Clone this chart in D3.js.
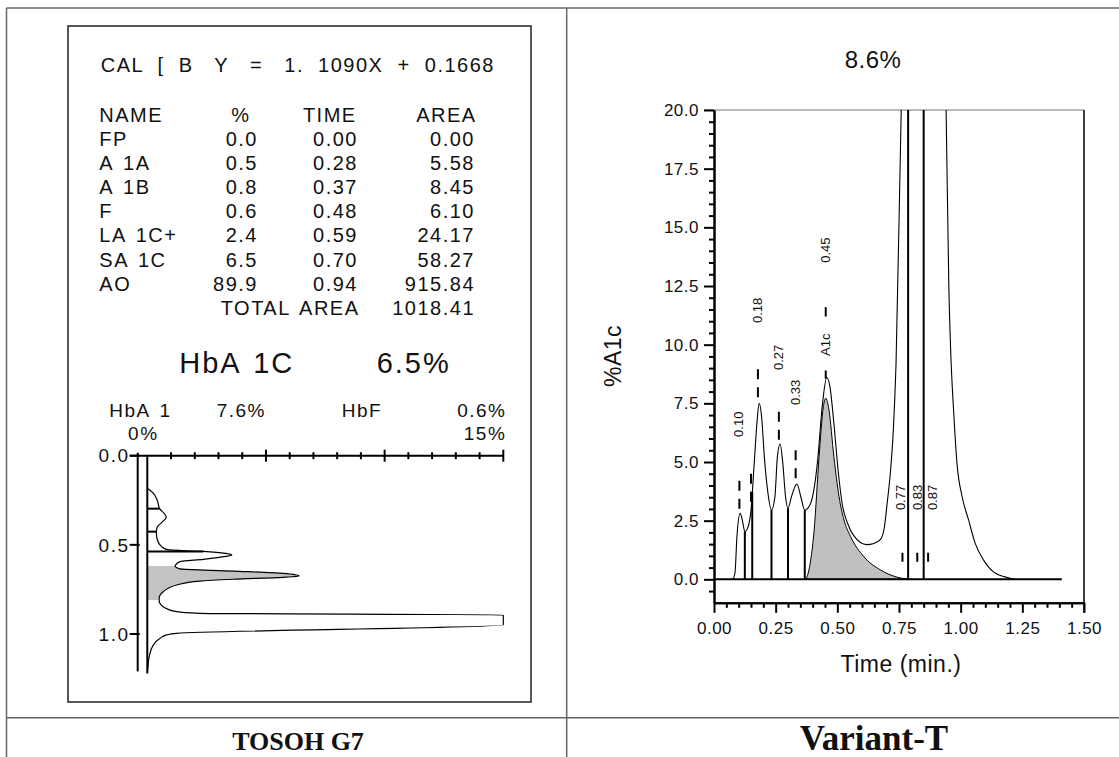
<!DOCTYPE html>
<html>
<head>
<meta charset="utf-8">
<script src="https://cdn.jsdelivr.net/npm/d3@7"></script>
<style>
  body { margin: 0; background: #fff; }
  svg text { font-family: "Liberation Sans", Arial, sans-serif; fill: #111; }
  .rep { font-size: 20px; letter-spacing: 1.5px; word-spacing: 3px; white-space: pre; }
  .foot { font-family: "Liberation Serif", "Times New Roman", serif !important; font-weight: bold; }
  .axis path, .axis line { stroke: #000; stroke-width: 2; }
  .axis text { font-size: 17px; letter-spacing: 0.5px; }
</style>
</head>
<body>
<div id="chart"></div>
<script>
"use strict";

// ---- TOSOH G7 report (left) ----
var calLine = "CAL  [  B   Y   =   1.  1090X  +  0.1668";
var tableHead = ["NAME", "%", "TIME", "AREA"];
var peakNames = ["FP", "A 1A", "A 1B", "F", "LA 1C+", "SA 1C", "AO"];
var peakPct = ["0.0", "0.5", "0.8", "0.6", "2.4", "6.5", "89.9"];
var peakTime = ["0.00", "0.28", "0.37", "0.48", "0.59", "0.70", "0.94"];
var peakArea = ["0.00", "5.58", "8.45", "6.10", "24.17", "58.27", "915.84"];
var totalArea = "1018.41";
var hba1c = "6.5%";
var hba1 = "7.6%";
var hbf = "0.6%";

// left chromatogram: time (min, downwards) vs percent (0-15%, rightwards)
var g7Time = [0.183, 0.21, 0.25, 0.297, 0.325, 0.345, 0.375, 0.40, 0.426, 0.47, 0.51, 0.527,
  0.537, 0.548, 0.557, 0.565, 0.581, 0.594, 0.606, 0.619, 0.635, 0.647, 0.66, 0.675,
  0.682, 0.693, 0.703, 0.725, 0.763, 0.80, 0.813, 0.847, 0.875, 0.884, 0.893, 0.95,
  0.996, 1.005, 1.024, 1.062, 1.127, 1.192, 1.21];
var g7Pct = [0.0, 0.25, 0.42, 0.52, 0.72, 0.8, 0.6, 0.42, 0.38, 0.42, 0.6, 0.85,
  2.36, 3.3, 3.56, 3.3, 2.36, 1.38, 1.24, 1.17, 1.38, 3.6, 5.73, 6.4,
  5.73, 3.6, 2.22, 1.24, 0.67, 0.5, 0.5, 0.67, 1.24, 2.22, 15.0, 15.0,
  1.24, 0.82, 0.54, 0.25, 0.08, 0.02, 0.0];
var g7DropTime = [0.297, 0.426, 0.537];
var g7DropPct = [0.52, 0.38, 2.36];
var g7Shade = [0.619, 0.81];          // HbA1c window (min)
var g7TimeTicks = [0.0, 0.5, 1.0];
var g7PctMajor = [0, 5, 10, 15];

// ---- Variant-T chromatogram (right) ----
var vtTitle = "8.6%";
var vtTime = [0.076, 0.085, 0.093, 0.106, 0.116, 0.125, 0.136, 0.150, 0.163, 0.174, 0.183,
  0.193, 0.204, 0.217, 0.233, 0.247, 0.257, 0.268, 0.279, 0.290, 0.300, 0.314, 0.336,
  0.352, 0.368, 0.392, 0.419, 0.440, 0.457, 0.470, 0.486, 0.503, 0.520, 0.541, 0.567,
  0.619, 0.648, 0.675, 0.691, 0.702, 0.716, 0.727, 0.738, 0.759, 0.80, 0.85, 0.90,
  0.941, 0.952, 0.960, 0.972, 0.985, 1.006, 1.032, 1.059, 1.093, 1.133, 1.20, 1.22];
var vtValue = [0.0, 0.26, 1.82, 2.81, 2.46, 2.03, 2.17, 2.95, 4.94, 6.65, 7.5,
  6.93, 5.23, 3.81, 2.95, 3.52, 5.23, 5.77, 4.94, 3.52, 3.03, 3.52, 4.06,
  3.52, 2.95, 3.24, 4.94, 7.5, 8.6, 8.21, 6.65, 4.66, 3.2, 2.4, 1.85,
  1.48, 1.53, 1.7, 2.24, 3.24, 4.66, 6.36, 9.2, 20.0, 34.0, 40.0, 34.0,
  20.0, 12.5, 9.6, 7.08, 4.94, 3.52, 2.53, 1.53, 0.82, 0.32, 0.05, 0.0];
var a1cTime = [0.372, 0.385, 0.406, 0.426, 0.443, 0.453, 0.466, 0.486, 0.507, 0.527, 0.554,
  0.608, 0.675, 0.743, 0.797];
var a1cValue = [0.0, 0.4, 2.1, 5.23, 7.33, 7.72, 7.23, 5.23, 3.52, 2.53, 1.82,
  0.96, 0.4, 0.09, 0.0];
var vtDropTime = [0.125, 0.155, 0.233, 0.300, 0.368, 0.787, 0.850];
var vtDropValue = [2.03, 3.73, 2.95, 3.03, 2.95, 20.0, 20.0];
var vtMarkTime = [0.103, 0.150, 0.178, 0.263, 0.331, 0.453, 0.453, 0.764, 0.824, 0.868];
var vtMarkTop = [4.2, 4.5, 8.95, 7.14, 5.5, 8.9, 11.6, 1.13, 1.13, 1.13];
var vtMarkBottom = [2.95, 3.3, 7.57, 5.8, 4.16, 8.55, 11.2, 0.75, 0.75, 0.75];
var vtLabelText = ["0.10", "0.18", "0.27", "0.33", "A1c", "0.45", "0.77", "0.83", "0.87"];
var vtLabelTime = [0.101, 0.178, 0.263, 0.332, 0.453, 0.453, 0.756, 0.825, 0.884];
var vtLabelValue = [6.07, 10.92, 8.92, 7.43, 9.52, 13.49, 2.95, 2.95, 2.95];
var vtBaselineEnd = 1.41;

var footLeft = "TOSOH G7";
var footRight = "Variant-T";

function zip(a, b) {
  return a.map(function (d, i) { return [d, b[i]]; });
}

function draw() {
  var W = 1119, H = 757;
  var svg = d3.select("#chart").append("svg")
    .attr("width", W)
    .attr("height", H);

  //Frame / table lines
  var frame = svg.append("g").attr("stroke", "#666").attr("stroke-width", 1.5);
  frame.append("line").attr("x1", 6.5).attr("y1", 8).attr("x2", W).attr("y2", 8);
  frame.append("line").attr("x1", 6.5).attr("y1", 8).attr("x2", 6.5).attr("y2", H);
  frame.append("line").attr("x1", 566.7).attr("y1", 8).attr("x2", 566.7).attr("y2", H);
  frame.append("line").attr("x1", 6.5).attr("y1", 717.7).attr("x2", W).attr("y2", 717.7);

  svg.append("rect")
    .attr("x", 68).attr("y", 26).attr("width", 463).attr("height", 676)
    .attr("fill", "none").attr("stroke", "#222").attr("stroke-width", 1.5);

  //Footer captions
  svg.append("text").attr("class", "foot")
    .attr("x", 298).attr("y", 750).attr("text-anchor", "middle")
    .style("font-size", "26px").text(footLeft);
  svg.append("text").attr("class", "foot")
    .attr("x", 874).attr("y", 750).attr("text-anchor", "middle")
    .style("font-size", "35px").text(footRight);

  // ---------- left report ----------
  var rep = svg.append("g");
  rep.append("text").attr("class", "rep").style("word-spacing", "0px")
    .attr("x", 100.7).attr("y", 71.7).text(calLine);

  var rowY = d3.scaleLinear().domain([0, 8]).range([121.7, 314.9]);
  var colX = [99.3, 241, 356.7, 476.7];
  var colAnchor = ["start", "middle", "end", "end"];
  rep.selectAll(".head").data(tableHead).enter().append("text")
    .attr("class", "rep head")
    .attr("x", function (d, i) { return colX[i]; })
    .attr("y", rowY(0))
    .attr("text-anchor", function (d, i) { return colAnchor[i]; })
    .text(function (d) { return d; });

  var cols = [
    { vals: peakNames, x: 99.3, anchor: "start" },
    { vals: peakPct, x: 258, anchor: "end" },
    { vals: peakTime, x: 358, anchor: "end" },
    { vals: peakArea, x: 475, anchor: "end" }
  ];
  cols.forEach(function (c) {
    rep.selectAll(null).data(c.vals).enter().append("text")
      .attr("class", "rep")
      .attr("x", c.x)
      .attr("y", function (d, i) { return rowY(i + 1); })
      .attr("text-anchor", c.anchor)
      .text(function (d) { return d; });
  });
  rep.append("text").attr("class", "rep").attr("x", 359.5).attr("y", rowY(8))
    .attr("text-anchor", "end").text("TOTAL AREA");
  rep.append("text").attr("class", "rep").attr("x", 475).attr("y", rowY(8))
    .attr("text-anchor", "end").text(totalArea);

  rep.append("text").attr("class", "rep").style("font-size", "29px").style("letter-spacing", "2px")
    .attr("x", 179.3).attr("y", 372.7).text("HbA 1C");
  rep.append("text").attr("class", "rep").style("font-size", "29px").style("letter-spacing", "2px")
    .attr("x", 376.7).attr("y", 372.7).text(hba1c);

  var small = rep.append("g");
  small.append("text").attr("class", "rep").style("font-size", "19px").attr("x", 109.3).attr("y", 417.3).text("HbA 1");
  small.append("text").attr("class", "rep").style("font-size", "19px").attr("x", 216.7).attr("y", 417.3).text(hba1);
  small.append("text").attr("class", "rep").style("font-size", "19px").attr("x", 341.7).attr("y", 417.3).text("HbF");
  small.append("text").attr("class", "rep").style("font-size", "19px").attr("x", 506.5).attr("y", 417.3)
    .attr("text-anchor", "end").text(hbf);

  //Scales for the small chromatogram
  var xL = d3.scaleLinear().domain([0, 15]).range([147.3, 503.3]);
  var yL = d3.scaleLinear().domain([0, 1]).range([455.7, 634]);
  var tEnd = 1.21;

  small.append("text").attr("class", "rep").style("font-size", "19px")
    .attr("x", xL(0) - 4).attr("y", 440).attr("text-anchor", "middle").text("0%");
  small.append("text").attr("class", "rep").style("font-size", "19px")
    .attr("x", xL(15) + 3).attr("y", 440).attr("text-anchor", "end").text("15%");

  var g7 = zip(g7Time, g7Pct);

  //Shaded HbA1c band (clipped area under the curve)
  svg.append("clipPath").attr("id", "g7clip").append("rect")
    .attr("x", xL(0)).attr("y", yL(g7Shade[0]))
    .attr("width", xL(15) - xL(0)).attr("height", yL(g7Shade[1]) - yL(g7Shade[0]));

  var areaL = d3.area()
    .curve(d3.curveMonotoneY)
    .y(function (d) { return yL(d[0]); })
    .x0(xL(0))
    .x1(function (d) { return xL(d[1]); });
  svg.append("path").datum(g7)
    .attr("clip-path", "url(#g7clip)")
    .attr("fill", "#c3c3c3")
    .attr("d", areaL);

  var lineL = d3.line()
    .curve(d3.curveMonotoneY)
    .y(function (d) { return yL(d[0]); })
    .x(function (d) { return xL(d[1]); });
  svg.append("path").datum(g7)
    .attr("fill", "none").attr("stroke", "#000").attr("stroke-width", 1.2)
    .attr("d", lineL);

  //Drop lines
  svg.selectAll(".g7drop").data(zip(g7DropTime, g7DropPct)).enter().append("line")
    .attr("x1", xL(0)).attr("x2", function (d) { return xL(d[1]); })
    .attr("y1", function (d) { return yL(d[0]); }).attr("y2", function (d) { return yL(d[0]); })
    .attr("stroke", "#000").attr("stroke-width", 2);

  //Axes of the small chromatogram
  var axL = svg.append("g").attr("stroke", "#000").attr("stroke-width", 2);
  var axX = 137.7;
  axL.append("line").attr("x1", axX).attr("x2", axX).attr("y1", yL(0) - 3).attr("y2", yL(tEnd));
  axL.append("line").attr("x1", xL(0)).attr("x2", xL(0)).attr("y1", yL(0)).attr("y2", yL(tEnd) + 2);
  axL.append("line").attr("x1", axX - 8).attr("x2", xL(15)).attr("y1", yL(0)).attr("y2", yL(0));
  axL.selectAll(".yt").data(g7TimeTicks).enter().append("line")
    .attr("x1", axX - 8).attr("x2", axX + 2)
    .attr("y1", function (d) { return yL(d); }).attr("y2", function (d) { return yL(d); });
  axL.selectAll(".xt").data(d3.range(1, 16)).enter().append("line")
    .attr("x1", function (d) { return xL(d); }).attr("x2", function (d) { return xL(d); })
    .attr("y1", function (d) { return yL(0) - (g7PctMajor.indexOf(d) >= 0 ? 6 : 3.5); })
    .attr("y2", function (d) { return yL(0) + (g7PctMajor.indexOf(d) >= 0 ? 6 : 3.5); });
  svg.selectAll(".ytl").data(g7TimeTicks).enter().append("text")
    .attr("class", "rep").style("font-size", "19px")
    .attr("x", 129.5).attr("y", function (d) { return yL(d); })
    .attr("dy", "0.35em").attr("text-anchor", "end")
    .text(function (d) { return d3.format(".1f")(d); });

  // ---------- right: Variant-T ----------
  var xR = d3.scaleLinear().domain([0, 1.5]).range([714, 1084]);
  var yR = d3.scaleLinear().domain([-1, 20]).range([602.8, 110]);

  svg.append("text").attr("x", 873).attr("y", 68).attr("text-anchor", "middle")
    .style("font-size", "24px").style("letter-spacing", "0.5px").text(vtTitle);

  //Plot frame: top (grey) and right edge
  svg.append("line").attr("x1", xR(0) - 10).attr("x2", xR(1.5)).attr("y1", yR(20)).attr("y2", yR(20))
    .attr("stroke", "#777").attr("stroke-width", 1.2);
  svg.append("line").attr("x1", xR(1.5)).attr("x2", xR(1.5)).attr("y1", yR(20)).attr("y2", yR(-1) + 10)
    .attr("stroke", "#111").attr("stroke-width", 1.6);

  svg.append("clipPath").attr("id", "vtclip").append("rect")
    .attr("x", xR(0)).attr("y", yR(20))
    .attr("width", xR(1.5) - xR(0)).attr("height", yR(-1) - yR(20));

  var plot = svg.append("g").attr("clip-path", "url(#vtclip)");

  var areaR = d3.area()
    .curve(d3.curveMonotoneX)
    .x(function (d) { return xR(d[0]); })
    .y0(yR(0))
    .y1(function (d) { return yR(d[1]); });
  plot.append("path").datum(zip(a1cTime, a1cValue))
    .attr("fill", "#c0c0c0").attr("stroke", "#000").attr("stroke-width", 1)
    .attr("d", areaR);

  var lineR = d3.line()
    .curve(d3.curveMonotoneX)
    .x(function (d) { return xR(d[0]); })
    .y(function (d) { return yR(d[1]); });
  plot.append("path").datum(zip(vtTime, vtValue))
    .attr("fill", "none").attr("stroke", "#000").attr("stroke-width", 1.1)
    .attr("d", lineR);

  plot.selectAll(".drop").data(zip(vtDropTime, vtDropValue)).enter().append("line")
    .attr("x1", function (d) { return xR(d[0]); }).attr("x2", function (d) { return xR(d[0]); })
    .attr("y1", yR(0)).attr("y2", function (d) { return yR(d[1]); })
    .attr("stroke", "#000").attr("stroke-width", 2);

  plot.append("line").attr("x1", xR(0)).attr("x2", xR(vtBaselineEnd))
    .attr("y1", yR(0)).attr("y2", yR(0))
    .attr("stroke", "#000").attr("stroke-width", 2);

  //Peak markers (dashed)
  plot.selectAll(".mark").data(vtMarkTime).enter().append("line")
    .attr("x1", function (d) { return xR(d); }).attr("x2", function (d) { return xR(d); })
    .attr("y1", function (d, i) { return yR(vtMarkTop[i]); })
    .attr("y2", function (d, i) { return yR(vtMarkBottom[i]); })
    .attr("stroke", "#000").attr("stroke-width", 2)
    .attr("stroke-dasharray", "10,8");

  //Peak labels (rotated)
  svg.selectAll(".plabel").data(vtLabelText).enter().append("text")
    .attr("transform", function (d, i) {
      return "translate(" + xR(vtLabelTime[i]) + "," + yR(vtLabelValue[i]) + ") rotate(-90)";
    })
    .attr("dy", "0.35em")
    .style("font-size", "13px")
    .text(function (d) { return d; });

  //Axes
  var yMajor = d3.range(0, 20.01, 2.5);
  var yMinor = d3.range(-0.5, 20, 0.5).filter(function (d) { return yMajor.indexOf(d) < 0; });
  var xMajor = d3.range(0, 1.51, 0.25);
  var xMinor = d3.range(1, 30).map(function (k) { return k * 0.05; })
    .filter(function (d) { return Math.abs(d * 4 - Math.round(d * 4)) > 1e-6; });

  svg.append("g").attr("class", "axis")
    .attr("transform", "translate(" + xR(0) + ",0)")
    .call(d3.axisLeft(yR).tickValues(yMinor).tickSize(5).tickSizeOuter(0).tickFormat(""));
  svg.append("g").attr("class", "axis")
    .attr("transform", "translate(" + xR(0) + ",0)")
    .call(d3.axisLeft(yR).tickValues(yMajor).tickSize(10).tickSizeOuter(0).tickPadding(5)
      .tickFormat(d3.format(".1f")));

  svg.append("g").attr("class", "axis")
    .attr("transform", "translate(0," + yR(-1) + ")")
    .call(d3.axisBottom(xR).tickValues(xMinor).tickSize(5).tickSizeOuter(0).tickFormat(""));
  svg.append("g").attr("class", "axis")
    .attr("transform", "translate(0," + yR(-1) + ")")
    .call(d3.axisBottom(xR).tickValues(xMajor).tickSize(10).tickSizeOuter(0).tickPadding(9)
      .tickFormat(d3.format(".2f")));

  svg.selectAll(".axis .domain").attr("stroke-width", 2);
  svg.selectAll(".axis text").attr("fill", "#111");

  //Axis titles
  svg.append("text")
    .attr("transform", "translate(621,356) rotate(-90)")
    .attr("text-anchor", "middle")
    .style("font-size", "23px").style("letter-spacing", "0.5px")
    .text("%A1c");
  svg.append("text")
    .attr("x", 901).attr("y", 672).attr("text-anchor", "middle")
    .style("font-size", "23px").style("letter-spacing", "0.5px")
    .text("Time (min.)");
}

window.onload = draw;
</script>
</body>
</html>
